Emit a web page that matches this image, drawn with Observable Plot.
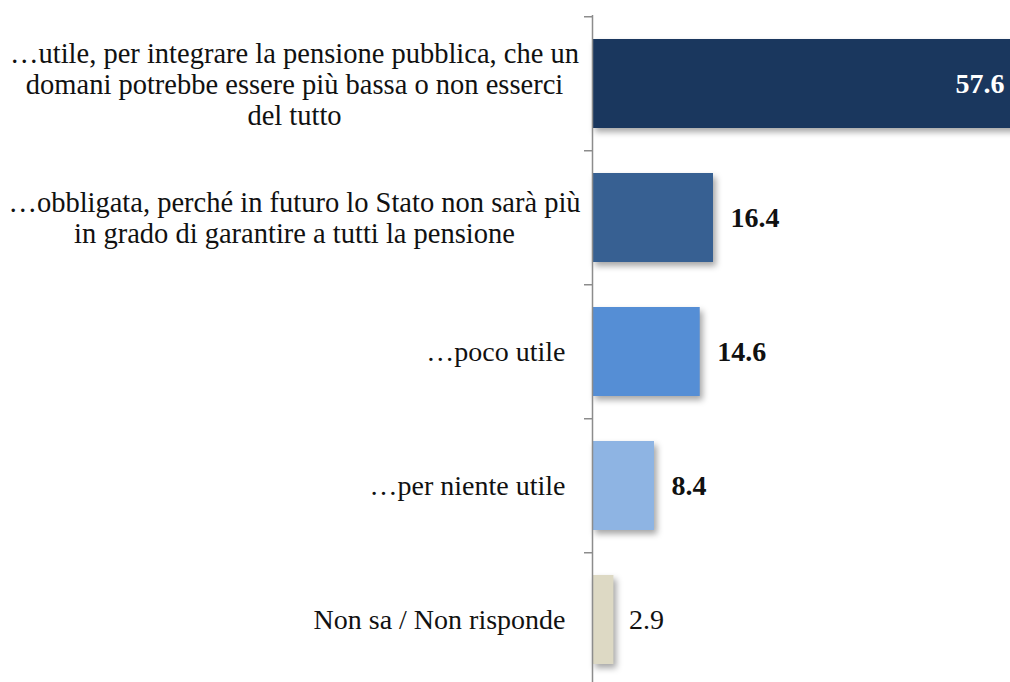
<!DOCTYPE html>
<html>
<head>
<meta charset="utf-8">
<script src="https://cdn.jsdelivr.net/npm/d3@7"></script>
<script src="https://cdn.jsdelivr.net/npm/@observablehq/plot@0.6"></script>
<style>
  html, body { margin: 0; padding: 0; background: #fff; overflow: hidden; }
  #chart svg { display: block; }
  #chart g[aria-label="bar"] rect { filter: drop-shadow(3px 4px 3px rgba(0,0,0,0.35)); }
</style>
</head>
<body>
<div id="chart"></div>
<script>
const categories = [
  "…utile, per integrare la pensione pubblica, che un\ndomani potrebbe essere più bassa o non esserci\ndel tutto",
  "…obbligata, perché in futuro lo Stato non sarà più\nin grado di garantire a tutti la pensione",
  "…poco utile",
  "…per niente utile",
  "Non sa / Non risponde"
];
const values = [57.6, 16.4, 14.6, 8.4, 2.9];
const valueLabels = ["57.6", "16.4", "14.6", "8.4", "2.9"];
const colors = ["#1a375e", "#376092", "#558ed5", "#8eb4e3", "#ddd9c4"];

const data = categories.map((c, i) => ({category: c, value: values[i], label: valueLabels[i], idx: i}));
const multi = d => d.category.includes("\n");

const chart = Plot.plot({
  width: 1010,
  height: 682,
  marginLeft: 592,
  marginRight: 0,
  marginTop: 15,
  marginBottom: 0,
  style: {fontFamily: "'Liberation Serif', 'Times New Roman', serif", background: "#fff"},
  x: {domain: [0, 57.6], range: [592, 1017], axis: null},
  y: {domain: categories, range: [15, 687.5], paddingInner: 0.338, paddingOuter: 0.169, axis: null},
  color: {domain: categories, range: colors},
  marks: [
    Plot.barX(data, {x: "value", y: "category", fill: "category"}),
    Plot.ruleX([0], {stroke: "#8c8c8c", strokeWidth: 1.5}),
    Plot.axisY({tickSize: 8, tickFormat: () => "", label: null, dy: -67.25, stroke: "#8c8c8c", strokeWidth: 1.5}),
    Plot.text(data.filter(multi), {x: () => 0, y: "category", text: "category", textAnchor: "middle", dx: -298, fontSize: 28.5, lineHeight: 1.09, fill: "#111"}),
    Plot.text(data.filter(d => !multi(d)), {x: () => 0, y: "category", text: "category", textAnchor: "end", dx: -27, fontSize: 28, fill: "#111"}),
    Plot.text(data.filter(d => d.idx === 0), {x: "value", y: "category", text: "label", textAnchor: "end", dx: -13, fontSize: 28, fontWeight: "bold", fill: "#fff"}),
    Plot.text(data.filter(d => d.idx > 0 && d.idx < 4), {x: "value", y: "category", text: "label", textAnchor: "start", dx: 17, fontSize: 28, fontWeight: "bold", fill: "#111"}),
    Plot.text(data.filter(d => d.idx === 4), {x: "value", y: "category", text: "label", textAnchor: "start", dx: 15, fontSize: 28, fill: "#111"})
  ]
});
document.getElementById("chart").appendChild(chart);
</script>
</body>
</html>
